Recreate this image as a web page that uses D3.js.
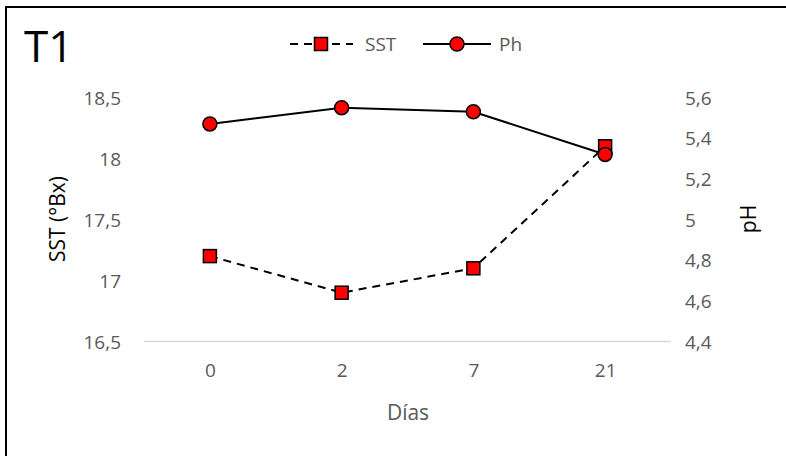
<html>
<head>
<script src="https://d3js.org/d3.v7.min.js"></script>
<style>
  body { margin: 0; background: #fff; }
  text { font-family: "Open Sans", sans-serif; }
</style>
</head>
<body>
<script>
// data
var dias = ["0", "2", "7", "21"];
var sst = [17.2, 16.9, 17.1, 18.1];
var ph = [5.47, 5.55, 5.53, 5.32];
var sstTicks = [16.5, 17, 17.5, 18, 18.5];
var phTicks = [4.4, 4.6, 4.8, 5.0, 5.2, 5.4, 5.6];

var width = 786, height = 456;
var grey = "#595959";

var svg = d3.select("body").append("svg")
    .attr("width", width)
    .attr("height", height);

svg.append("rect").attr("width", width).attr("height", height).attr("fill", "#fff");

// frame (only top and left edges fall inside the picture)
svg.append("rect")
    .attr("x", 6).attr("y", 7)
    .attr("width", width + 20).attr("height", height + 20)
    .attr("fill", "none").attr("stroke", "#000").attr("stroke-width", 2);

var x = d3.scalePoint().domain(dias).range([144, 671]).padding(0.5);
var yL = d3.scaleLinear().domain([16.5, 18.5]).range([341.5, 97.5]);
var yR = d3.scaleLinear().domain([4.4, 5.6]).range([341.5, 97.5]);

var fmt = function(d) { return d3.format("~g")(d).replace(".", ","); };

// left axis
var gl = svg.append("g").attr("transform", "translate(121,0)")
    .call(d3.axisLeft(yL).tickValues(sstTicks).tickFormat(fmt).tickSize(0).tickPadding(0));
gl.select(".domain").remove();
gl.selectAll("text").attr("fill", grey).style("font-size", "19px").attr("dy", "0.35em");

// right axis
var gr = svg.append("g").attr("transform", "translate(685,0)")
    .call(d3.axisRight(yR).tickValues(phTicks).tickFormat(fmt).tickSize(0).tickPadding(0));
gr.select(".domain").remove();
gr.selectAll("text").attr("fill", grey).style("font-size", "19px").attr("dy", "0.35em");

// bottom axis (only the baseline)
svg.append("line")
    .attr("x1", x.range()[0]).attr("x2", x.range()[1])
    .attr("y1", yL(16.5)).attr("y2", yL(16.5))
    .attr("stroke", "#d9d9d9").attr("stroke-width", 1.5);
var gx = svg.append("g").attr("transform", "translate(0," + (yL(16.5) + 22) + ")")
    .call(d3.axisBottom(x).tickSize(0).tickPadding(0));
gx.select(".domain").remove();
gx.selectAll("text").attr("fill", grey).style("font-size", "19px").attr("dy", "0.71em");

// axis titles
svg.append("text").attr("x", 408).attr("y", 420).attr("text-anchor", "middle")
    .attr("fill", grey).style("font-size", "21px").text("Días");
svg.append("text").attr("transform", "translate(65,219) rotate(-90)")
    .attr("text-anchor", "middle").attr("fill", "#000").style("font-size", "21px").text("SST (°Bx)");
svg.append("text").attr("transform", "translate(756,219) rotate(-90)")
    .attr("text-anchor", "middle").attr("fill", "#000").style("font-size", "21px").text("pH");

// title
svg.append("text").attr("x", 24).attr("y", 62).attr("fill", "#000")
    .style("font-size", "44px").text("T1");

// SST series
svg.append("path").datum(sst)
    .attr("fill", "none").attr("stroke", "#000").attr("stroke-width", 2)
    .attr("stroke-dasharray", "8,6")
    .attr("d", d3.line().x(function(d, i) { return x(dias[i]); }).y(function(d) { return yL(d); }));

// pH series
svg.append("path").datum(ph)
    .attr("fill", "none").attr("stroke", "#000").attr("stroke-width", 2)
    .attr("d", d3.line().x(function(d, i) { return x(dias[i]); }).y(function(d) { return yR(d); }));

svg.selectAll("rect.sst").data(sst).enter().append("rect")
    .attr("class", "sst")
    .attr("x", function(d, i) { return x(dias[i]) - 6.5; })
    .attr("y", function(d) { return yL(d) - 6.5; })
    .attr("width", 13).attr("height", 13)
    .attr("fill", "#ff0000").attr("stroke", "#000").attr("stroke-width", 1.5);

svg.selectAll("circle.ph").data(ph).enter().append("circle")
    .attr("class", "ph")
    .attr("cx", function(d, i) { return x(dias[i]); })
    .attr("cy", function(d) { return yR(d); })
    .attr("r", 7)
    .attr("fill", "#ff0000").attr("stroke", "#000").attr("stroke-width", 1.5);

// legend
var lg = svg.append("g").attr("transform", "translate(0,44)");
lg.append("line").attr("x1", 290).attr("x2", 353).attr("stroke", "#000")
    .attr("stroke-width", 2).attr("stroke-dasharray", "8,6");
lg.append("rect").attr("x", 321 - 6.5).attr("y", -6.5).attr("width", 13).attr("height", 13)
    .attr("fill", "#ff0000").attr("stroke", "#000").attr("stroke-width", 1.5);
lg.append("text").attr("x", 365).attr("dy", "0.35em").attr("fill", grey)
    .style("font-size", "19px").text("SST");
lg.append("line").attr("x1", 423).attr("x2", 491).attr("stroke", "#000").attr("stroke-width", 2);
lg.append("circle").attr("cx", 457).attr("r", 7)
    .attr("fill", "#ff0000").attr("stroke", "#000").attr("stroke-width", 1.5);
lg.append("text").attr("x", 499).attr("dy", "0.35em").attr("fill", grey)
    .style("font-size", "19px").text("Ph");
</script>
</body>
</html>
